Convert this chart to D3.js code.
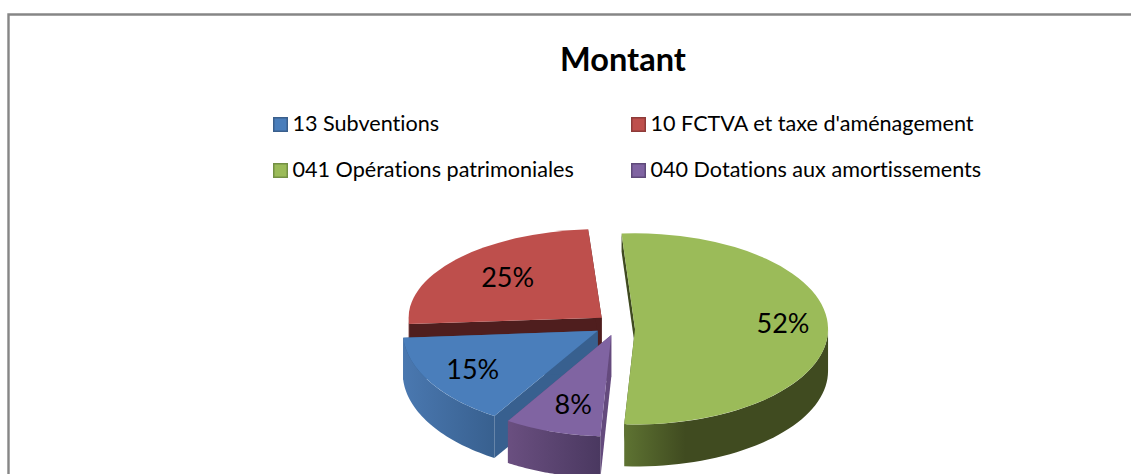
<!DOCTYPE html>
<html><head><meta charset="utf-8">
<script src="https://cdn.jsdelivr.net/npm/d3@7/dist/d3.min.js"></script>
<style>html,body{margin:0;padding:0;background:#fff;overflow:hidden}svg{display:block}text{font-family:Lato,"Open Sans",sans-serif;fill:#000;font-variant-ligatures:none}</style>
</head><body><script>
// data
const title = "Montant";
const categories = ["13 Subventions","10 FCTVA et taxe d'aménagement","041 Opérations patrimoniales","040 Dotations aux amortissements"];
const values = [15,25,52,8];
const percentLabels = ["15%","25%","52%","8%"];
const topColors = ["#4a7ebb","#be4f4c","#9bbb59","#8064a2"];
const faceColors = ["#38608f","#4f1e1e","#3f4a20","#644a7d"];
const wallLeft = ["#4a78b0","#7a3230","#5e7332","#6a4f80"];
const wallRight = ["#38608f","#5a2423","#404b20","#4a3860"];
const swatchBorders = ["#3a5f8c","#8e3b39","#739044","#5f4a7a"];
// layout
const W=1131,H=474, cx=614, cy=329, rx=195, depth=42, explode=19;
const startDeg=212, faceDepth=[42,42,18,42];
const tilts=[0.515,0.46,0.495,0.52];
const nudge=[[0,-3],[2,-5],[2,0],[3,-3]], radiusScale=[1,0.99,0.99,1];
const labelPos=[[-125,39],[-94,-40],[148,-5],[-38,70]];
const legendX=[273,631], legendY=[124,170];
const drawOrder=[1,2,0,3];

const svg=d3.select("body").append("svg").attr("width",W).attr("height",H);
const defs=svg.append("defs");
svg.append("path").attr("d",`M${W+5},14.5H8.5V${H+5}`).attr("fill","none").attr("stroke","#868686").attr("stroke-width",2.4);

const pie=d3.pie().sort(null).value(d=>d).startAngle(startDeg*Math.PI/180).endAngle((startDeg+360)*Math.PI/180);
const arcs=pie(values);
const line=d3.line();
drawOrder.forEach(i=>{
  const d=arcs[i], mid=(d.startAngle+d.endAngle)/2, R=rx*radiusScale[i], tilt=tilts[i];
  const pt=(c,a,r,dz=0)=>[c[0]+r*Math.sin(a),c[1]-r*Math.cos(a)*tilt+dz];
  const c=[cx+explode*Math.sin(mid)+nudge[i][0],cy-explode*Math.cos(mid)*0.495+nudge[i][1]];
  const arc=d3.arc().innerRadius(0).outerRadius(R);
  const g=svg.append("g");
  // straight cut faces
  [d.startAngle,d.endAngle].forEach(a=>{
    const fd=faceDepth[i];
    g.append("path").attr("fill",faceColors[i]).attr("d",line([pt(c,a,R),pt(c,a,0),pt(c,a,0,fd),pt(c,a,R,fd)])+"Z");
  });
  // curved outer wall (front half only)
  const lo=Math.max(d.startAngle,Math.PI/2), hi=Math.min(d.endAngle,Math.PI*1.5);
  const lo2=Math.max(d.startAngle-2*Math.PI,Math.PI/2), hi2=Math.min(d.endAngle-2*Math.PI,Math.PI*1.5);
  [[lo,hi],[lo2,hi2]].forEach(([a,b],k)=>{
    if(b<=a) return;
    const ts=d3.range(0,41).map(t=>a+(b-a)*t/40);
    const ptsTop=ts.map(t=>pt(c,t,R)), ptsBot=ts.map(t=>pt(c,t,R,depth)).reverse();
    const x0=d3.min(ptsTop,p=>p[0]), x1=d3.max(ptsTop,p=>p[0]);
    const id=`w${i}${k}`;
    const gr=defs.append("linearGradient").attr("id",id).attr("gradientUnits","userSpaceOnUse").attr("x1",x0).attr("x2",x1).attr("y1",0).attr("y2",0);
    gr.append("stop").attr("offset",0).attr("stop-color",wallLeft[i]);
    gr.append("stop").attr("offset",i===2?0.3:1).attr("stop-color",wallRight[i]);
    g.append("path").attr("fill",`url(#${id})`).attr("d",line(ptsTop.concat(ptsBot))+"Z");
  });
  // top face
  g.append("path").attr("fill",topColors[i]).attr("transform",`translate(${c[0]},${c[1]}) scale(1,${tilt})`).attr("d",arc(d));
  // label
  svg.append("text").attr("class","lab")
    .attr("x",c[0]+labelPos[i][0]).attr("y",c[1]+labelPos[i][1]+9).attr("text-anchor","middle").attr("font-size",27).text(percentLabels[i]);
});
svg.selectAll("text.lab").raise();
svg.append("text").attr("x",623).attr("y",71).attr("text-anchor","middle").attr("font-size",32.5).attr("font-weight",700).text(title);
categories.forEach((t,i)=>{
  const x=legendX[i%2], y=legendY[Math.floor(i/2)];
  svg.append("rect").attr("x",x+.75).attr("y",y-6.25).attr("width",13.5).attr("height",13.5).attr("fill",topColors[i]).attr("stroke",swatchBorders[i]).attr("stroke-width",1.5);
  svg.append("text").attr("x",x+19.5).attr("y",y+7).attr("font-size",21.6).text(t);
});
</script></body></html>
